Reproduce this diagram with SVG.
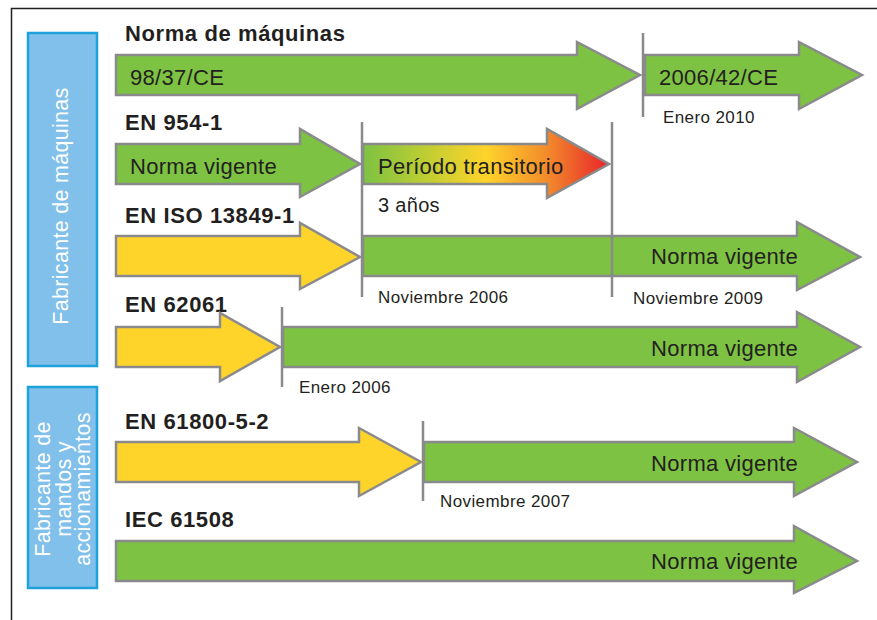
<svg xmlns="http://www.w3.org/2000/svg" width="877" height="620" viewBox="0 0 877 620">
<defs>
<linearGradient id="trans" x1="363" y1="0" x2="609" y2="0" gradientUnits="userSpaceOnUse">
<stop offset="0" stop-color="#7dc242"/>
<stop offset="0.22" stop-color="#b5cc35"/>
<stop offset="0.5" stop-color="#ffd42a"/>
<stop offset="0.75" stop-color="#f28a2b"/>
<stop offset="1" stop-color="#e8232a"/>
</linearGradient>
</defs>
<style>
.g{fill:#7dc242;stroke:#8a8a8c;stroke-width:2.5;stroke-linejoin:miter}
.y{fill:#ffd42a;stroke:#8a8a8c;stroke-width:2.5}
.t{fill:url(#trans);stroke:#8a8a8c;stroke-width:2.5}
.box{fill:#80c0ea;stroke:#1ea2dc;stroke-width:2.5}
.h{font-family:"Liberation Sans",Arial,sans-serif;font-weight:bold;font-size:22px;letter-spacing:0.6px;fill:#231f20}
.l{font-family:"Liberation Sans",Arial,sans-serif;font-size:22px;letter-spacing:0.3px;fill:#231f20}
.d{font-family:"Liberation Sans",Arial,sans-serif;font-size:17px;letter-spacing:0.4px;fill:#231f20}
.w{font-family:"Liberation Sans",Arial,sans-serif;font-size:21.5px;letter-spacing:0.3px;fill:#ffffff}
.m{stroke:#8a8a8c;stroke-width:2.5;fill:none}
</style>
<rect width="877" height="620" fill="#ffffff"/>
<g id="frame">
<path d="M11.5,620 V8.5 H877" fill="none" stroke="#231f20" stroke-width="1.5"/>
</g>
<g id="side-maquinas">
<rect class="box" x="28" y="33" width="69" height="333"/>
<text class="w" transform="translate(68,206) rotate(-90)" text-anchor="middle">Fabricante de máquinas</text>
</g>
<g id="side-mandos">
<rect class="box" x="28" y="387" width="69" height="201"/>
<text class="w" transform="translate(50,489) rotate(-90)" text-anchor="middle">Fabricante de</text>
<text class="w" transform="translate(70.5,489) rotate(-90)" text-anchor="middle">mandos y</text>
<text class="w" transform="translate(90,489) rotate(-90)" text-anchor="middle">accionamientos</text>
</g>

<g id="row-maquinas">
<text class="h" x="125" y="41">Norma de máquinas</text>
<g id="a-98-37">
<polygon class="g" points="116,55 577,55 577,42 640,75 577,109 577,95 116,95"/>
<text class="l" x="130" y="85">98/37/CE</text>
</g>
<g id="a-2006-42">
<polygon class="g" points="645,55 799,55 799,42 862,75 799,109 799,95 645,95"/>
<text class="l" x="659" y="85">2006/42/CE</text>
</g>
<text class="d" x="663" y="123">Enero 2010</text>
</g>

<g id="row-en954">
<text class="h" x="125" y="130">EN 954-1</text>
<g id="a-954-vigente">
<polygon class="g" points="116,144 300,144 300,129 360,164 300,197 300,184 116,184"/>
<text class="l" x="130" y="174">Norma vigente</text>
</g>
<g id="a-transitorio">
<polygon class="t" points="363,144 547,144 547,129 609,164 547,198 547,184 363,184"/>
<text class="l" x="378" y="174">Período transitorio</text>
</g>
<text class="l" x="378" y="212" style="font-size:20px">3 años</text>
</g>

<g id="row-en13849">
<text class="h" x="125" y="223">EN ISO 13849-1</text>
<g id="a-13849-prev">
<polygon class="y" points="116,236 300,236 300,223 360,257 300,289 300,276 116,276"/>
</g>
<g id="a-13849-vigente">
<polygon class="g" points="363,236 797,236 797,222 860,257 797,290 797,276 363,276"/>
<text class="l" x="798" y="264" text-anchor="end">Norma vigente</text>
</g>
<text class="d" x="378" y="303">Noviembre 2006</text>
<text class="d" x="633" y="304">Noviembre 2009</text>
</g>

<g id="row-en62061">
<text class="h" x="125" y="312">EN 62061</text>
<g id="a-62061-prev">
<polygon class="y" points="116,327 220,327 220,313 280,347 220,381 220,367 116,367"/>
</g>
<g id="a-62061-vigente">
<polygon class="g" points="283,327 797,327 797,312 860,347 797,382 797,367 283,367"/>
<text class="l" x="798" y="356" text-anchor="end">Norma vigente</text>
</g>
<text class="d" x="299" y="393">Enero 2006</text>
</g>

<g id="row-en61800">
<text class="h" x="125" y="429">EN 61800-5-2</text>
<g id="a-61800-prev">
<polygon class="y" points="116,442 359,442 359,428 421,462 359,496 359,482 116,482"/>
</g>
<g id="a-61800-vigente">
<polygon class="g" points="424,442 794,442 794,428 857,462 794,496 794,482 424,482"/>
<text class="l" x="798" y="471" text-anchor="end">Norma vigente</text>
</g>
<text class="d" x="440" y="507">Noviembre 2007</text>
</g>

<g id="row-iec61508">
<text class="h" x="125" y="527">IEC 61508</text>
<g id="a-61508-vigente">
<polygon class="g" points="116,541 794,541 794,526 857,561 794,593 794,581 116,581"/>
<text class="l" x="798" y="569" text-anchor="end">Norma vigente</text>
</g>
</g>

<g id="connectors">
<line class="m" x1="643" y1="33" x2="643" y2="117"/>
<line class="m" x1="362" y1="122" x2="362" y2="297"/>
<line class="m" x1="612" y1="122" x2="612" y2="297"/>
<line class="m" x1="282" y1="307" x2="282" y2="387"/>
<line class="m" x1="423" y1="421" x2="423" y2="501"/>
</g>
</svg>
